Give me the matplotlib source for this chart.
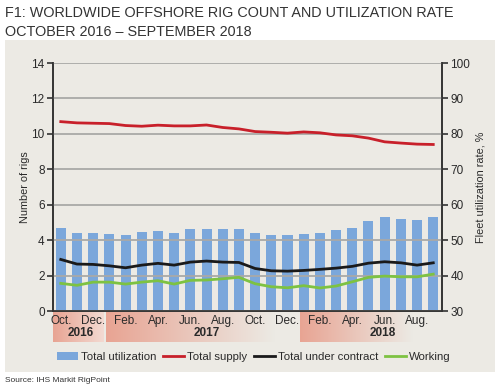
import numpy as np
import matplotlib.pyplot as plt
from matplotlib.colors import LinearSegmentedColormap

# monthly data, Oct 2016 - Sep 2018
months = ["Oct.", "Nov.", "Dec.", "Jan.", "Feb.", "Mar.", "Apr.", "May", "Jun.", "Jul.", "Aug.", "Sep.",
          "Oct.", "Nov.", "Dec.", "Jan.", "Feb.", "Mar.", "Apr.", "May", "Jun.", "Jul.", "Aug.", "Sep."]
years = ["2016", "2017", "2018"]
# fleet utilization, % (right axis)
utilization = [53.3, 52.1, 52.1, 51.6, 51.4, 52.3, 52.6, 52.1, 53.2, 53.2, 53.2, 53.2,
               51.9, 51.4, 51.4, 51.7, 52.0, 52.8, 53.3, 55.3, 56.4, 56.1, 55.6, 56.4]
# number of rigs (left axis)
total_supply = [10.69, 10.62, 10.60, 10.58, 10.47, 10.43, 10.49, 10.45, 10.45, 10.50, 10.36, 10.28,
                10.13, 10.09, 10.04, 10.11, 10.06, 9.94, 9.89, 9.76, 9.55, 9.48, 9.42, 9.40]
under_contract = [2.91, 2.65, 2.63, 2.55, 2.44, 2.59, 2.69, 2.59, 2.76, 2.82, 2.76, 2.74,
                  2.40, 2.27, 2.25, 2.29, 2.35, 2.42, 2.52, 2.70, 2.78, 2.72, 2.59, 2.72]
working = [1.56, 1.45, 1.63, 1.63, 1.52, 1.63, 1.71, 1.52, 1.73, 1.75, 1.82, 1.90,
           1.54, 1.37, 1.31, 1.43, 1.30, 1.41, 1.65, 1.90, 1.97, 1.93, 1.93, 2.08]

panel = "#ECEAE4"
txt = "#2A2A2A"
plt.rcParams['font.family'] = ["Liberation Sans", "DejaVu Sans"]

fig = plt.figure(figsize=(5, 3.89), dpi=100)
fig.patch.set_facecolor("white")
# grey panel
fig.patches.append(plt.Rectangle((5/500, 1-372/389), 490/500, 332/389, transform=fig.transFigure,
                                 facecolor=panel, edgecolor="none", zorder=0))

fig.text(5/500, 1-13/389, "F1: WORLDWIDE OFFSHORE RIG COUNT AND UTILIZATION RATE",
         fontsize=10.4, color="#333333", va="center", ha="left")
fig.text(5/500, 1-32/389, "OCTOBER 2016 \u2013 SEPTEMBER 2018",
         fontsize=10.4, color="#333333", va="center", ha="left")
fig.text(5/500, 1-381/389, "Source: IHS Markit RigPoint", fontsize=6, color="#333333", va="center")

x = np.arange(len(months))
xlim = (-0.48, 23.54)

# year bands behind month labels
band = fig.add_axes([53/500, 1-342/389, 389/500, 30/389], zorder=0.5)
band.set_xlim(*xlim)
band.set_ylim(0, 1)
band.axis("off")
grad = np.linspace(0, 1, 256).reshape(1, -1)
for (x0, x1, c_end) in [(-0.48, 2.65, "#F3DAD2"), (2.82, 13.2, panel), (14.8, 21.75, panel)]:
    cmap = LinearSegmentedColormap.from_list("b", ["#E8A493", c_end])
    band.imshow(grad, cmap=cmap, extent=(x0, x1, 0, 1), aspect="auto")
for lbl, pos in zip(years, [1.2, 9.0, 19.9]):
    band.text(pos, 0.3, lbl, ha="center", va="center", fontsize=8.5, fontweight="bold", color=txt)

ax = fig.add_axes([53/500, 1-311/389, 389/500, 248/389], zorder=2)
ax.patch.set_alpha(0)
ax2 = ax.twinx()

ax.set_xlim(*xlim)
ax.set_ylim(0, 14)
ax.set_yticks(range(0, 15, 2))
ax2.set_ylim(30, 100)
ax2.set_yticks(range(30, 101, 10))
ax.grid(axis="y", color="#A9A9A7", lw=1.3)
ax.set_axisbelow(True)

bars = ax2.bar(x, utilization, width=0.62, bottom=0, color="#7BA7DB", zorder=1, label="Total utilization")
ax2.set_ylim(30, 100)
l1, = ax.plot(x, total_supply, color="#C8202A", lw=2, label="Total supply", zorder=3)
l2, = ax.plot(x, under_contract, color="#1A1A1A", lw=2, label="Total under contract", zorder=3)
l3, = ax.plot(x, working, color="#7DC242", lw=2, label="Working", zorder=3)
# draw lines above bars
ax.set_zorder(3)
ax2.set_zorder(2)

ax.set_xticks(x[::2])
ax.set_xticklabels(months[::2])
for a in (ax, ax2):
    a.spines["top"].set_visible(False)
    for s in ("left", "right", "bottom"):
        a.spines[s].set_color("#333333")
        a.spines[s].set_linewidth(1.2)
ax.tick_params(axis="x", length=0, pad=3, labelsize=8.5, labelcolor=txt)
ax.tick_params(axis="y", length=4, width=1.2, color="#333333", labelsize=8.5, labelcolor=txt, pad=2)
ax2.tick_params(axis="y", length=4, width=1.2, color="#333333", labelsize=8.5, labelcolor=txt, pad=2)
ax.set_ylabel("Number of rigs", fontsize=7.8, color=txt, labelpad=1)
ax2.set_ylabel("Fleet utilization rate, %", fontsize=7.8, color=txt, labelpad=4)

fig.legend([bars, l1, l2, l3], ["Total utilization", "Total supply", "Total under contract", "Working"],
           loc="center left", bbox_to_anchor=(47/500, 1-357/389), ncol=4, frameon=False,
           fontsize=8.2, handlelength=1.8, handletextpad=0.3, columnspacing=0.6, labelcolor=txt)

fig.savefig("out.png", dpi=100, facecolor="white")
